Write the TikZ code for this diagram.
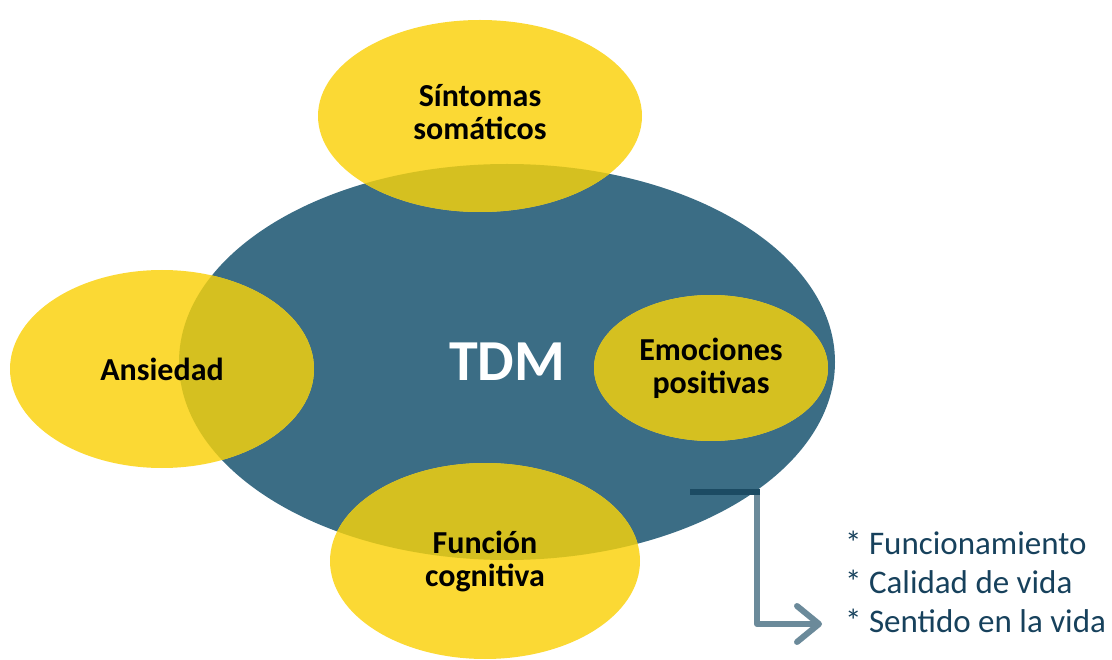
\documentclass[tikz,border=0pt]{standalone}
\usepackage{fontspec}
\setmainfont{Carlito}
\usetikzlibrary{shapes.geometric,arrows.meta}
\definecolor{tdmblue}{HTML}{3B6D85}
\definecolor{ovyellow}{HTML}{FBD934}
\definecolor{ovmix}{HTML}{D5C020}
\definecolor{bardark}{HTML}{1C4B63}
\definecolor{arrgrey}{HTML}{6B8A9A}
\definecolor{listblue}{HTML}{17415C}
\begin{document}
\begin{tikzpicture}[x=1pt,y=-1pt,
  ov/.style={ellipse,inner sep=0pt,fill=ovyellow,align=center,font=\fontsize{32}{33}\selectfont\bfseries,
    path picture={\clip (tdm.center) ellipse [x radius=328pt,y radius=198pt];
      \fill[ovmix] (path picture bounding box.south west) rectangle (path picture bounding box.north east);}}]
\useasboundingbox (0,0) rectangle (1112,660);
% big oval
\node[ellipse,inner sep=0pt,fill=tdmblue,minimum width=656pt,minimum height=396pt,text=white,font=\fontsize{58}{60}\selectfont\bfseries] (tdm) at (507,362) {TDM};
% yellow ovals
\node[ov,minimum width=324pt,minimum height=192pt,text depth=8pt] (sint) at (480,116) {Síntomas\\somáticos};
\node[ov,minimum width=304pt,minimum height=198pt] (ans) at (162,369) {Ansiedad};
\node[ov,minimum width=234pt,minimum height=146pt] (emo) at (711,368) {Emociones\\positivas};
\node[ov,minimum width=310pt,minimum height=196pt] (func) at (485,561) {Función\\cognitiva};
% list + arrow
\node[anchor=west,inner sep=0pt,align=left,text=listblue,font=\fontsize{33}{39}\selectfont] (list) at (845,582) {* Funcionamiento\\* Calidad de vida\\* Sentido en la vida};
\coordinate (hook) at (757,492);
\coordinate (tip) at (822,624);
\draw[arrgrey,line width=6pt,line join=round,-{Straight Barb[length=22pt,width=36pt,round]}] (hook) |- (tip);
\draw[bardark,line width=6pt] (690,492) -- (hook) -- ++(3,0);
\end{tikzpicture}
\end{document}
